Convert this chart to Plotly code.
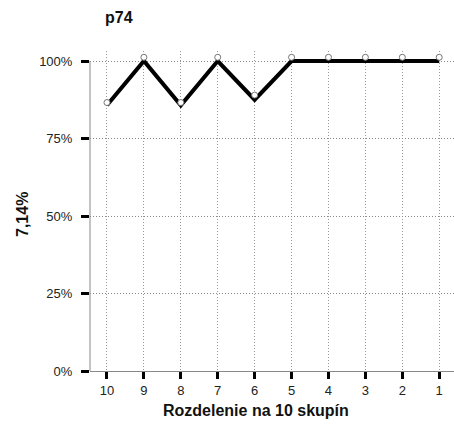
import plotly.graph_objects as go

categories = ["10", "9", "8", "7", "6", "5", "4", "3", "2", "1"]
line_values = [85.7, 100, 85.7, 100, 87.5, 100, 100, 100, 100, 100]
marker_values = [86.6, 101.2, 86.6, 101.2, 89.0, 101.2, 101.2, 101.2, 101.2, 101.2]
y_ticks = [0, 25, 50, 75, 100]
y_tick_labels = ["0%", "25%", "50%", "75%", "100%"]

x_pos = list(range(len(categories)))
FONT = "Liberation Sans, Arial, sans-serif"

W, H = 454, 428
L, R, T, B = 90, 0, 51, 57
YTOP = 320 / 3.1  # 100% sits 10px below plot top

fig = go.Figure()
fig.add_trace(go.Scatter(
    x=x_pos, y=line_values, mode="lines",
    line=dict(color="black", width=4), cliponaxis=False, showlegend=False,
))
fig.add_trace(go.Scatter(
    x=x_pos, y=marker_values, mode="markers",
    marker=dict(symbol="circle", size=6, color="white", line=dict(color="#777", width=1)),
    cliponaxis=False, showlegend=False,
))

fig.update_layout(
    width=W, height=H,
    margin=dict(l=L, r=R, t=T, b=B, autoexpand=False),
    paper_bgcolor="white", plot_bgcolor="white",
    font=dict(family=FONT, size=13, color="#222"),
    showlegend=False,
    xaxis=dict(
        range=[-0.46, 9.40], tickvals=x_pos, ticktext=categories,
        showgrid=True, gridcolor="#999", griddash="1px,2px", gridwidth=1,
        ticks="outside", ticklen=7, tickwidth=3, tickcolor="black",
        showline=True, linecolor="#888", linewidth=1,
        zeroline=False, tickfont=dict(size=13, color="#222"), automargin=False,
    ),
    yaxis=dict(
        range=[0, YTOP], tickvals=y_ticks, ticktext=y_tick_labels,
        showgrid=True, gridcolor="#888", griddash="1px,2px", gridwidth=1,
        ticks="outside", ticklen=8, tickwidth=3, tickcolor="black",
        showline=False, zeroline=False, ticklabelstandoff=6,
        tickfont=dict(size=13, color="#222"), automargin=False,
    ),
    shapes=[
        dict(type="line", xref="paper", yref="y", x0=0, x1=0, y0=0, y1=100,
             line=dict(color="#888", width=1), layer="below"),
    ],
)

pw, ph = W - L - R, H - T - B
def px_x(x):
    return (x - L) / pw
def px_y(y):
    return (H - B - y) / ph

fig.layout.annotations = [
    dict(text="<b>p74</b>", x=px_x(103), y=px_y(17), xref="paper", yref="paper",
         xanchor="left", yanchor="middle", showarrow=False, font=dict(size=16, color="#111")),
    dict(text="<b>Rozdelenie na 10 skupín</b>", x=px_x(256), y=px_y(410), xref="paper", yref="paper",
         xanchor="center", yanchor="middle", showarrow=False, font=dict(size=16, color="#111")),
    dict(text="<b>7,14%</b>", x=px_x(22), y=px_y(215), xref="paper", yref="paper",
         xanchor="center", yanchor="middle", textangle=-90, showarrow=False,
         font=dict(size=16, color="#111")),
]

fig.write_html("out.html", config={"displayModeBar": False},
               post_script="document.body.style.margin='0';")
